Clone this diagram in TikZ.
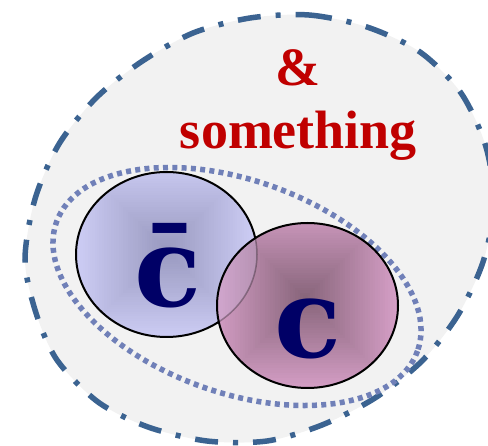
\documentclass[tikz,border=0pt]{standalone}
\usepackage{fontspec}
\newfontfamily\dvs{DejaVu Serif}
\newfontfamily\lsf{Liberation Serif}
\definecolor{bgray}{HTML}{F2F2F2}
\definecolor{dashblue}{HTML}{3B6391}
\definecolor{dotblue}{HTML}{7080B8}
\definecolor{txtred}{HTML}{C00000}
\definecolor{navy}{HTML}{000066}
\definecolor{bout}{HTML}{D0D0F8}
\definecolor{bin}{HTML}{9898BE}
\definecolor{pout}{HTML}{DBA3CC}
\definecolor{pin}{HTML}{866479}
\begin{document}
\begin{tikzpicture}[x=1pt,y=-1pt,
  bigdash/.style={draw=dashblue,line width=5.5pt,dash pattern=on 23pt off 15pt on 5pt off 15pt},
  dotline/.style={draw=dotblue,line width=5.5pt,dash pattern=on 5pt off 4.3pt},
  ring/.style={draw=black,line width=2pt},
  redtxt/.style={font=\lsf\bfseries\fontsize{54}{54}\selectfont,text=txtred,inner sep=0pt,anchor=base},
  quark/.style={font=\dvs\bfseries\fontsize{110}{110}\selectfont,text=navy,inner sep=0pt,anchor=base}]
\useasboundingbox (0,0) rectangle (488,446);
\def\outline{plot[smooth cycle] coordinates {(250,18) (309,15) (367,27) (420,52) (461,93) (486,147) (494,205) (483,262) (458,315) (422,361) (375,398) (322,425) (267,441) (207,441) (148,427) (98,402) (57,360) (36,313) (25,260) (35,199) (59,144) (96,98) (141,62) (193,33)}}
\fill[bgray] \outline;
\draw[bigdash] \outline;
% dotted ellipse
\draw[dotline,rotate around={-19.66:(237,286.5)}] (237,286.5) ellipse [x radius=191.7,y radius=106.2];
% blue circle
\begin{scope}
\clip (166.5,254.5) ellipse [x radius=90.5,y radius=82.5];
\foreach \i in {0,...,40} {
  \pgfmathsetmacro\s{95*(1-\i/40)}
  \pgfmathtruncatemacro\p{100*\i/40}
  \fill[bin!\p!bout] (166-\s,250-\s) rectangle (166+\s,250+\s);
}
\end{scope}
\draw[ring] (166.5,254.5) ellipse [x radius=90.5,y radius=82.5];
% pink circle
\begin{scope}
\clip (307.5,305.5) ellipse [x radius=90.5,y radius=82.5];
\foreach \i in {0,...,40} {
  \pgfmathsetmacro\s{100*(1-\i/40)}
  \pgfmathtruncatemacro\p{100*\i/40}
  \fill[pin!\p!pout] (305-\s,298-\s) rectangle (305+\s,298+\s);
}
\fill[bout,opacity=0.2] (166.5,254.5) ellipse [x radius=90.5,y radius=82.5];
\draw[black,opacity=0.3,line width=1.5pt] (166.5,254.5) ellipse [x radius=90.5,y radius=82.5];
\end{scope}
\draw[ring] (307.5,305.5) ellipse [x radius=90.5,y radius=82.5];
% texts
\node[redtxt] (amp) at (298,86) {\&};
\node[redtxt] (smth) at (298.5,149) {something};
\node[quark] (cbar) at (167.5,307) {c\char"0304};
\node[quark] (cq) at (308,358) {c};
\end{tikzpicture}
\end{document}
